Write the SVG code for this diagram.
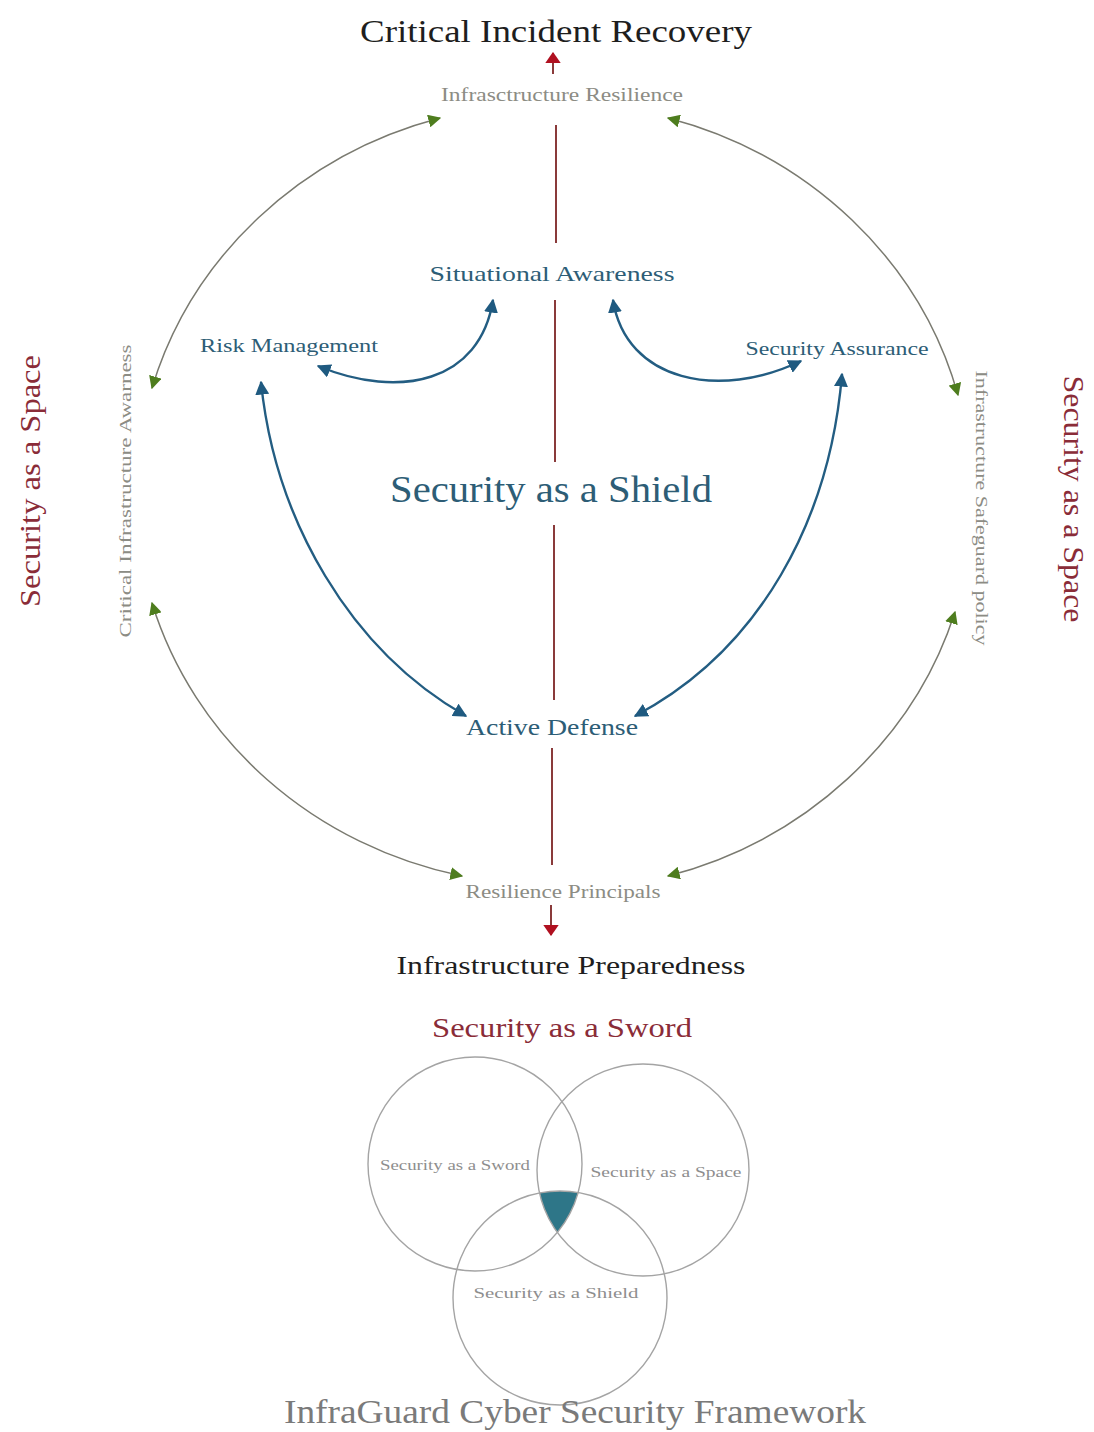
<svg xmlns="http://www.w3.org/2000/svg" width="1094" height="1432" viewBox="0 0 1094 1432">
<style>
.t{font-family:"Liberation Serif","Times New Roman",serif;text-anchor:middle}
.blk{fill:#1e1e1e}
.teal{fill:#2d5d76}
.gray{fill:#8c8c84}
.red{fill:#8a2c38}
.vg{fill:#8e8e8e}
.green{fill:none;stroke:#7a7a70;stroke-width:1.5}
.blue{fill:none;stroke:#235d82;stroke-width:2.4}
.axis{stroke:#8a3a3a;stroke-width:2;fill:none}
.venn{fill:none;stroke:#a4a4a4;stroke-width:1.4}
</style>
<defs>
<marker id="mg" viewBox="0 0 10 10" refX="9" refY="5" markerWidth="13" markerHeight="13" markerUnits="userSpaceOnUse" orient="auto-start-reverse"><path d="M0,0 L10,5 L0,10 z" fill="#4e7d1e"/></marker>
<marker id="mb" viewBox="0 0 10 10" refX="9" refY="5" markerWidth="14" markerHeight="14" markerUnits="userSpaceOnUse" orient="auto-start-reverse"><path d="M0,0 L10,5 L0,10 z" fill="#1f5a80"/></marker>
<marker id="mr" viewBox="0 0 10 14" refX="9" refY="7" markerWidth="11" markerHeight="16" markerUnits="userSpaceOnUse" orient="auto"><path d="M0,0 L10,7 L0,14 z" fill="#b01020"/></marker>
<clipPath id="c1"><circle cx="475" cy="1164" r="107"/></clipPath>
<clipPath id="c2"><circle cx="643" cy="1170" r="106"/></clipPath>
</defs>
<rect width="1094" height="1432" fill="#ffffff"/>

<g id="connectors">
<path class="axis" d="M553,74 L553,53" marker-end="url(#mr)"/>
<line class="axis" x1="556" y1="125" x2="556" y2="243"/>
<line class="axis" x1="555" y1="300" x2="555" y2="462"/>
<line class="axis" x1="554" y1="525" x2="554" y2="700"/>
<line class="axis" x1="552" y1="748" x2="552" y2="865"/>
<path class="axis" d="M551,905 L551,935" marker-end="url(#mr)"/>

<path class="green" d="M440,118 A415,392 0 0 0 152,388" marker-start="url(#mg)" marker-end="url(#mg)"/>
<path class="green" d="M668,118 A415,392 0 0 1 958,395" marker-start="url(#mg)" marker-end="url(#mg)"/>
<path class="green" d="M152,603 A415,392 0 0 0 462,876" marker-start="url(#mg)" marker-end="url(#mg)"/>
<path class="green" d="M955,612 A415,392 0 0 1 668,876" marker-start="url(#mg)" marker-end="url(#mg)"/>

<path class="blue" d="M318,366 C400,400 480,382 493,300" marker-start="url(#mb)" marker-end="url(#mb)"/>
<path class="blue" d="M613,300 C626,382 720,400 801,361" marker-start="url(#mb)" marker-end="url(#mb)"/>
<path class="blue" d="M261,382 C275,520 350,650 466,716" marker-start="url(#mb)" marker-end="url(#mb)"/>
<path class="blue" d="M842,374 C830,520 760,650 635,716" marker-start="url(#mb)" marker-end="url(#mb)"/>
</g>

<g id="critical-incident-recovery"><text class="t blk" x="556" y="42" font-size="32" textLength="392" lengthAdjust="spacingAndGlyphs">Critical Incident Recovery</text></g>
<g id="infrastructure-resilience"><text class="t gray" x="562" y="101" font-size="19" textLength="242" lengthAdjust="spacingAndGlyphs">Infrasctructure Resilience</text></g>
<g id="situational-awareness"><text class="t teal" x="552" y="281" font-size="22" textLength="245" lengthAdjust="spacingAndGlyphs">Situational Awareness</text></g>
<g id="risk-management"><text class="t teal" x="289" y="352" font-size="19" textLength="178" lengthAdjust="spacingAndGlyphs">Risk Management</text></g>
<g id="security-assurance"><text class="t teal" x="837" y="355" font-size="19" textLength="183" lengthAdjust="spacingAndGlyphs">Security Assurance</text></g>
<g id="security-as-a-shield"><text class="t teal" x="551" y="502" font-size="37" textLength="322" lengthAdjust="spacingAndGlyphs">Security as a Shield</text></g>
<g id="active-defense"><text class="t teal" x="552" y="735" font-size="24" textLength="172" lengthAdjust="spacingAndGlyphs">Active Defense</text></g>
<g id="resilience-principals"><text class="t gray" x="563" y="898" font-size="19" textLength="195" lengthAdjust="spacingAndGlyphs">Resilience Principals</text></g>
<g id="infrastructure-preparedness"><text class="t blk" x="571" y="974" font-size="26" textLength="349" lengthAdjust="spacingAndGlyphs">Infrastructure Preparedness</text></g>
<g id="security-as-a-sword"><text class="t red" x="562" y="1037" font-size="28" textLength="260" lengthAdjust="spacingAndGlyphs">Security as a Sword</text></g>

<g id="security-as-a-space-left"><text class="t red" transform="translate(40,481) rotate(-90)" font-size="30" textLength="252" lengthAdjust="spacingAndGlyphs">Security as a Space</text></g>
<g id="critical-infrastructure-awarness"><text class="t gray" transform="translate(131,491) rotate(-90)" font-size="17" textLength="293" lengthAdjust="spacingAndGlyphs">Critical Infrastructure Awarness</text></g>
<g id="infrastructure-safeguard-policy"><text class="t gray" transform="translate(976,508) rotate(90)" font-size="17" textLength="275" lengthAdjust="spacingAndGlyphs">Infrastructure Safeguard policy</text></g>
<g id="security-as-a-space-right"><text class="t red" transform="translate(1064,499) rotate(90)" font-size="29" textLength="247" lengthAdjust="spacingAndGlyphs">Security as a Space</text></g>

<g id="venn">
<g clip-path="url(#c1)"><g clip-path="url(#c2)"><circle cx="560" cy="1298" r="107" fill="#2e7688"/></g></g>
<circle class="venn" cx="475" cy="1164" r="107"/>
<circle class="venn" cx="643" cy="1170" r="106"/>
<circle class="venn" cx="560" cy="1298" r="107"/>
<text class="t vg" x="455" y="1170" font-size="14" textLength="150" lengthAdjust="spacingAndGlyphs">Security as a Sword</text>
<text class="t vg" x="666" y="1177" font-size="14" textLength="151" lengthAdjust="spacingAndGlyphs">Security as a Space</text>
<text class="t vg" x="556" y="1298" font-size="15" textLength="165" lengthAdjust="spacingAndGlyphs">Security as a Shield</text>
</g>

<g id="title"><text class="t" fill="#7a7a7a" x="575" y="1423" font-size="33" textLength="582" lengthAdjust="spacingAndGlyphs">InfraGuard Cyber Security Framework</text></g>
</svg>
